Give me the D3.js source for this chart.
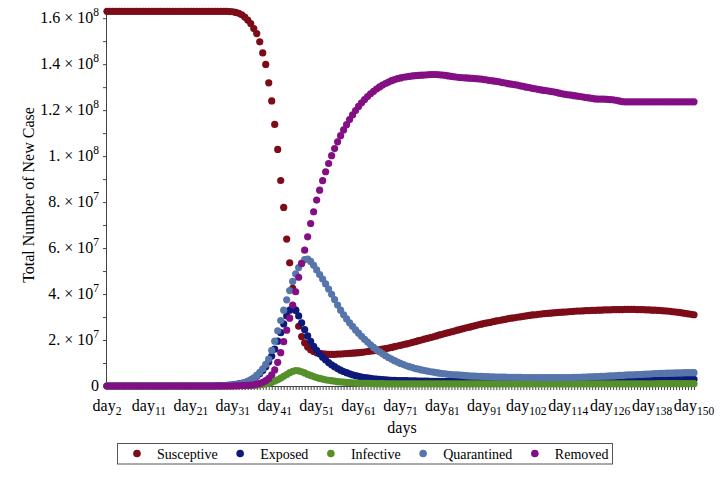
<!DOCTYPE html>
<html>
<head>
<meta charset="utf-8">
<script src="https://cdn.jsdelivr.net/npm/d3@7"></script>
<style>
  body { margin: 0; background: #fff; }
  svg { font-family: "Liberation Serif", "Times New Roman", serif; }
</style>
</head>
<body>
<div id="chart"></div>
<script>
// Series values, one per plotted point, in millions of people
const susceptive = [
  163, 163, 163, 163, 163, 163, 163, 163, 163, 163,
  163, 163, 163, 163, 163, 163, 163, 163, 163, 163,
  163, 163, 163, 163, 163, 163, 163, 163, 163, 163,
  163, 163, 163, 163, 163, 163, 163, 163, 163, 163,
  163, 162.9, 162.8, 162.5, 162.1, 161.5, 160.5, 159.2, 157.7, 155.5,
  153.3, 149.7, 144.9, 139.9, 131.9, 124, 113.8, 102.9, 89.4, 77.7,
  63.9, 53.6, 42.5, 33, 26, 21.5, 18.8, 17, 15.8, 15,
  14.5, 14.2, 14, 13.9, 13.8, 13.8, 13.8, 13.9, 13.9, 14,
  14.1, 14.2, 14.3, 14.4, 14.5, 14.6, 14.8, 15, 15.2, 15.3,
  15.5, 15.8, 16, 16.3, 16.5, 16.8, 17.1, 17.4, 17.7, 18,
  18.3, 18.6, 19, 19.3, 19.7, 20, 20.4, 20.7, 21.1, 21.4,
  21.8, 22.2, 22.5, 22.9, 23.2, 23.6, 23.9, 24.3, 24.6, 25,
  25.3, 25.6, 25.9, 26.3, 26.6, 26.9, 27.2, 27.5, 27.7, 28,
  28.3, 28.5, 28.8, 29, 29.3, 29.5, 29.7, 29.9, 30.1, 30.3,
  30.5, 30.7, 30.9, 31, 31.2, 31.3, 31.5, 31.6, 31.7, 31.8,
  31.9, 32, 32.1, 32.2, 32.3, 32.4, 32.5, 32.6, 32.6, 32.7,
  32.8, 32.8, 32.9, 32.9, 33, 33, 33.1, 33.1, 33.1, 33.2,
  33.2, 33.2, 33.2, 33.3, 33.3, 33.3, 33.3, 33.2, 33.2, 33.2,
  33.1, 33.1, 33, 33, 32.9, 32.8, 32.7, 32.6, 32.5, 32.3,
  32.2, 32, 31.8, 31.6, 31.4, 31.2, 31
];
const exposed = [
  0, 0, 0, 0, 0, 0, 0, 0, 0, 0,
  0, 0, 0, 0, 0, 0, 0, 0, 0, 0,
  0, 0, 0, 0, 0, 0, 0, 0, 0, 0,
  0, 0, 0, 0, 0, 0, 0.1, 0.1, 0.2, 0.2,
  0.3, 0.4, 0.5, 0.7, 0.9, 1.2, 1.5, 2, 2.6, 3.3,
  4.2, 5.3, 6.7, 8.4, 10.5, 13, 16, 19.5, 23.2, 27,
  30.5, 33, 34, 33, 30.5, 27.5, 24.5, 21.8, 19.4, 17.3,
  15.5, 13.9, 12.5, 11.3, 10.2, 9.2, 8.4, 7.6, 6.9, 6.3,
  5.8, 5.3, 4.9, 4.5, 4.2, 3.9, 3.7, 3.5, 3.3, 3.1,
  3, 2.9, 2.8, 2.7, 2.6, 2.5, 2.5, 2.4, 2.4, 2.3,
  2.3, 2.2, 2.2, 2.2, 2.1, 2.1, 2.1, 2.1, 2, 2,
  2, 2, 2, 2, 2, 2, 2, 2, 2, 2,
  1.9, 1.9, 1.9, 1.9, 1.9, 1.9, 1.9, 1.9, 1.9, 1.9,
  1.9, 1.9, 1.9, 1.9, 1.9, 1.9, 1.9, 1.9, 1.9, 1.9,
  1.9, 1.9, 1.9, 1.9, 1.9, 1.9, 1.9, 1.9, 1.9, 1.9,
  1.9, 1.9, 1.9, 1.9, 2, 2, 2, 2, 2, 2,
  2.1, 2.1, 2.1, 2.1, 2.2, 2.2, 2.2, 2.2, 2.3, 2.3,
  2.3, 2.3, 2.4, 2.4, 2.4, 2.4, 2.5, 2.5, 2.5, 2.5,
  2.6, 2.6, 2.6, 2.6, 2.7, 2.7, 2.7, 2.7, 2.8, 2.8,
  2.8, 2.8, 2.9, 2.9, 2.9, 2.9, 2.9
];
const infective = [
  0, 0, 0, 0, 0, 0, 0, 0, 0, 0,
  0, 0, 0, 0, 0, 0, 0, 0, 0, 0,
  0, 0, 0, 0, 0, 0, 0, 0, 0, 0,
  0, 0, 0, 0, 0, 0, 0, 0, 0, 0,
  0, 0, 0, 0, 0, 0.1, 0.1, 0.2, 0.2, 0.3,
  0.4, 0.5, 0.7, 0.9, 1.2, 1.6, 2.1, 2.7, 3.4, 4.2,
  5, 5.8, 6.4, 6.7, 6.6, 6.2, 5.7, 5.1, 4.6, 4.1,
  3.7, 3.3, 3, 2.7, 2.5, 2.3, 2.1, 1.9, 1.8, 1.7,
  1.6, 1.5, 1.4, 1.3, 1.2, 1.2, 1.1, 1.1, 1.1, 1,
  1, 1, 1, 0.9, 0.9, 0.9, 0.9, 0.9, 0.9, 0.9,
  0.9, 0.9, 0.9, 0.9, 0.9, 0.9, 0.9, 0.9, 0.9, 0.9,
  0.9, 0.9, 0.9, 0.9, 0.9, 0.9, 0.9, 0.9, 0.9, 0.9,
  0.9, 0.9, 0.9, 0.9, 0.9, 0.9, 0.9, 0.9, 0.9, 0.9,
  0.9, 0.9, 0.9, 0.9, 0.9, 0.9, 0.9, 0.9, 0.9, 0.9,
  0.9, 0.9, 0.9, 0.9, 0.9, 0.9, 0.9, 0.9, 0.9, 0.9,
  0.9, 0.9, 0.9, 0.9, 0.9, 0.9, 0.9, 0.9, 0.9, 0.9,
  0.9, 0.9, 0.9, 0.9, 0.9, 0.9, 0.9, 0.9, 0.9, 0.9,
  0.9, 0.9, 0.9, 0.9, 0.9, 0.9, 0.9, 0.9, 0.9, 0.9,
  0.9, 0.9, 0.9, 0.9, 1, 1, 1, 1, 1, 1,
  1, 1, 1, 1, 1, 1, 1
];
const quarantined = [
  0, 0, 0, 0, 0, 0, 0, 0, 0, 0,
  0, 0, 0, 0, 0, 0, 0, 0, 0, 0,
  0, 0, 0, 0, 0, 0, 0, 0, 0, 0,
  0, 0, 0, 0, 0, 0, 0, 0, 0, 0.1,
  0.2, 0.3, 0.4, 0.6, 0.8, 1.1, 1.5, 2, 2.7, 3.5,
  4.6, 5.9, 7.5, 9.4, 11.7, 15.5, 19.5, 24, 28.5, 33,
  37.5, 41.5, 45.5, 48.8, 51.5, 53.5, 55, 55.2, 54.2, 52.5,
  50.5, 48.5, 46.5, 44.4, 42.2, 39.9, 37.6, 35.2, 33, 31,
  29.2, 27.5, 25.9, 24.4, 23, 21.6, 20.3, 19.1, 17.9, 16.8,
  15.8, 14.9, 14, 13.2, 12.4, 11.7, 11, 10.4, 9.8, 9.3,
  8.8, 8.4, 8, 7.6, 7.3, 7, 6.7, 6.5, 6.2, 6,
  5.8, 5.6, 5.4, 5.3, 5.1, 5, 4.9, 4.8, 4.7, 4.6,
  4.5, 4.4, 4.3, 4.3, 4.2, 4.2, 4.1, 4.1, 4, 4,
  3.9, 3.9, 3.9, 3.9, 3.8, 3.8, 3.8, 3.8, 3.8, 3.7,
  3.7, 3.7, 3.7, 3.7, 3.6, 3.6, 3.6, 3.6, 3.6, 3.6,
  3.6, 3.6, 3.6, 3.7, 3.7, 3.7, 3.8, 3.8, 3.8, 3.9,
  3.9, 4, 4, 4.1, 4.1, 4.2, 4.2, 4.3, 4.4, 4.4,
  4.5, 4.6, 4.6, 4.7, 4.8, 4.8, 4.9, 5, 5, 5.1,
  5.2, 5.2, 5.3, 5.4, 5.4, 5.5, 5.5, 5.6, 5.6, 5.6,
  5.7, 5.7, 5.7, 5.8, 5.8, 5.8, 5.8
];
const removed = [
  0, 0, 0, 0, 0, 0, 0, 0, 0, 0,
  0, 0, 0, 0, 0, 0, 0, 0, 0, 0,
  0, 0, 0, 0, 0, 0, 0, 0, 0, 0,
  0, 0, 0, 0, 0, 0, 0, 0, 0, 0,
  0, 0, 0, 0.1, 0.1, 0.2, 0.2, 0.3, 0.4, 0.5,
  0.8, 1.1, 1.6, 2.3, 3.3, 4.8, 7, 10.3, 14.5, 19.3,
  24.3, 29.5, 35.2, 41, 47.3, 53.3, 59.1, 64.9, 70.7, 75.8,
  80.9, 85.2, 89.3, 93.2, 96.8, 100.2, 103.3, 106.2, 108.9, 111.4,
  113.7, 115.9, 117.9, 119.8, 121.6, 123.2, 124.6, 125.9, 127.1, 128.2,
  129.2, 130.1, 130.9, 131.6, 132.2, 132.8, 133.3, 133.7, 134, 134.3,
  134.5, 134.7, 134.9, 135, 135.1, 135.2, 135.3, 135.4, 135.5, 135.5,
  135.5, 135.4, 135.3, 135.1, 134.9, 134.7, 134.5, 134.3, 134.2, 134.1,
  134, 133.9, 133.8, 133.7, 133.6, 133.5, 133.3, 133.1, 132.9, 132.7,
  132.5, 132.3, 132, 131.8, 131.5, 131.3, 131.1, 130.9, 130.6, 130.3,
  130, 129.8, 129.5, 129.3, 129, 128.8, 128.6, 128.4, 128.2, 128,
  127.7, 127.4, 127.1, 126.9, 126.7, 126.5, 126.3, 126.1, 125.9, 125.7,
  125.5, 125.3, 125.1, 124.9, 124.8, 124.8, 124.8, 124.7, 124.6, 124.5,
  124.3, 124, 123.7, 123.6, 123.6, 123.6, 123.6, 123.6, 123.6, 123.6,
  123.6, 123.6, 123.6, 123.6, 123.6, 123.6, 123.6, 123.6, 123.6, 123.6,
  123.6, 123.6, 123.6, 123.6, 123.6, 123.6, 123.6
];

const seriesNames = ["Susceptive", "Exposed", "Infective", "Quarantined", "Removed"];
const seriesColors = ["#7b0c18", "#0e1a7a", "#55902a", "#5676ab", "#840f84"];

// x tick labels (day numbers), one every labelStep points
const dayLabels = [2, 11, 21, 31, 41, 51, 61, 71, 81, 91, 102, 114, 126, 138, 150];
const labelStep = 14;
// y tick values in millions
const yTicks = [0, 20, 40, 60, 80, 100, 120, 140, 160];

const series = [susceptive, exposed, infective, quarantined, removed];

// Dimensions
const width = 727;
const height = 478;
const margin = { top: 9, right: 33, bottom: 92, left: 107 };
const axisY = height - margin.bottom;

const svg = d3.select("#chart")
  .append("svg")
    .attr("width", width)
    .attr("height", height);

const points = d3.range(susceptive.length);
const xScale = d3.scalePoint()
  .domain(points)
  .range([margin.left, width - margin.right]);
const yScale = d3.scaleLinear()
  .domain([0, 164])
  .range([axisY, margin.top]);

// Axes
const bottomAxis = d3.axisBottom(xScale)
  .tickValues(points)
  .tickSize(4)
  .tickSizeOuter(0)
  .tickFormat("");
svg
  .append("g")
    .attr("class", "axis axis-x")
    .attr("transform", `translate(0, ${axisY})`)
    .call(bottomAxis);

const leftAxis = d3.axisLeft(yScale)
  .tickValues(d3.range(0, 161, 10))
  .tickSize(3)
  .tickSizeOuter(0)
  .tickFormat("");
svg
  .append("g")
    .attr("class", "axis axis-y")
    .attr("transform", `translate(${margin.left - 1}, 0)`)
    .call(leftAxis);

svg.selectAll(".axis path, .axis line")
  .attr("stroke", "#444");
svg.select(".axis-x path")
  .attr("d", `M${margin.left - 1},0.5H${width - margin.right + 2}`);

// x tick labels: day with subscript
const xLabels = svg
  .append("g")
    .attr("class", "x-labels")
    .attr("font-size", 16)
    .attr("fill", "#000")
  .selectAll("text")
  .data(dayLabels)
  .join("text")
    .attr("x", (d, i) => xScale(i * labelStep))
    .attr("y", axisY + 25)
    .attr("text-anchor", "middle");
xLabels.append("tspan").text("day");
xLabels.append("tspan")
    .attr("font-size", 11.5)
    .attr("dy", 4)
    .text(d => d);

svg
  .append("text")
    .attr("x", 402)
    .attr("y", axisY + 47)
    .attr("text-anchor", "middle")
    .attr("font-size", 16)
    .attr("fill", "#000")
    .text("days");

// y tick labels: mantissa x 10^exp
const yLabels = svg
  .append("g")
    .attr("class", "y-labels")
    .attr("font-size", 16)
    .attr("fill", "#000")
  .selectAll("text")
  .data(yTicks)
  .join("text")
    .attr("x", margin.left - 8)
    .attr("y", d => yScale(d) + 5)
    .attr("text-anchor", "end");
yLabels.append("tspan")
    .text(d => {
      if (d === 0) return "0";
      const mant = d >= 100 ? d / 100 : d / 10;
      return (Number.isInteger(mant) ? mant + "." : mant) + " \u00d7 10";
    });
yLabels.filter(d => d > 0)
  .append("tspan")
    .attr("font-size", 11.5)
    .attr("dy", -7)
    .text(d => d >= 100 ? 8 : 7);

svg
  .append("text")
    .attr("transform", "translate(34, 195) rotate(-90)")
    .attr("text-anchor", "middle")
    .attr("font-size", 16)
    .attr("fill", "#000")
    .text("Total Number of New Case");

// Append dots, series by series
const dotRadius = 3.6;
series.forEach((values, k) => {
  svg
    .append("g")
      .attr("class", "series")
      .attr("fill", seriesColors[k])
    .selectAll("circle")
    .data(values)
    .join("circle")
      .attr("cx", (d, i) => xScale(i))
      .attr("cy", d => yScale(d))
      .attr("r", dotRadius);
});

// Legend
const legend = svg
  .append("g")
    .attr("class", "legend");
legend
  .append("rect")
    .attr("x", 117.5)
    .attr("y", 443.5)
    .attr("width", 495)
    .attr("height", 20.5)
    .attr("fill", "#fff")
    .attr("stroke", "#555");
let lx = 137;
seriesNames.forEach((name, k) => {
  legend
    .append("circle")
      .attr("cx", lx)
      .attr("cy", 453.5)
      .attr("r", 3.8)
      .attr("fill", seriesColors[k]);
  const label = legend
    .append("text")
      .attr("x", lx + 20)
      .attr("y", 458.5)
      .attr("font-size", 14)
      .attr("fill", "#000")
      .text(name);
  lx += 20 + label.node().getComputedTextLength() + 22.5;
});
</script>
</body>
</html>
